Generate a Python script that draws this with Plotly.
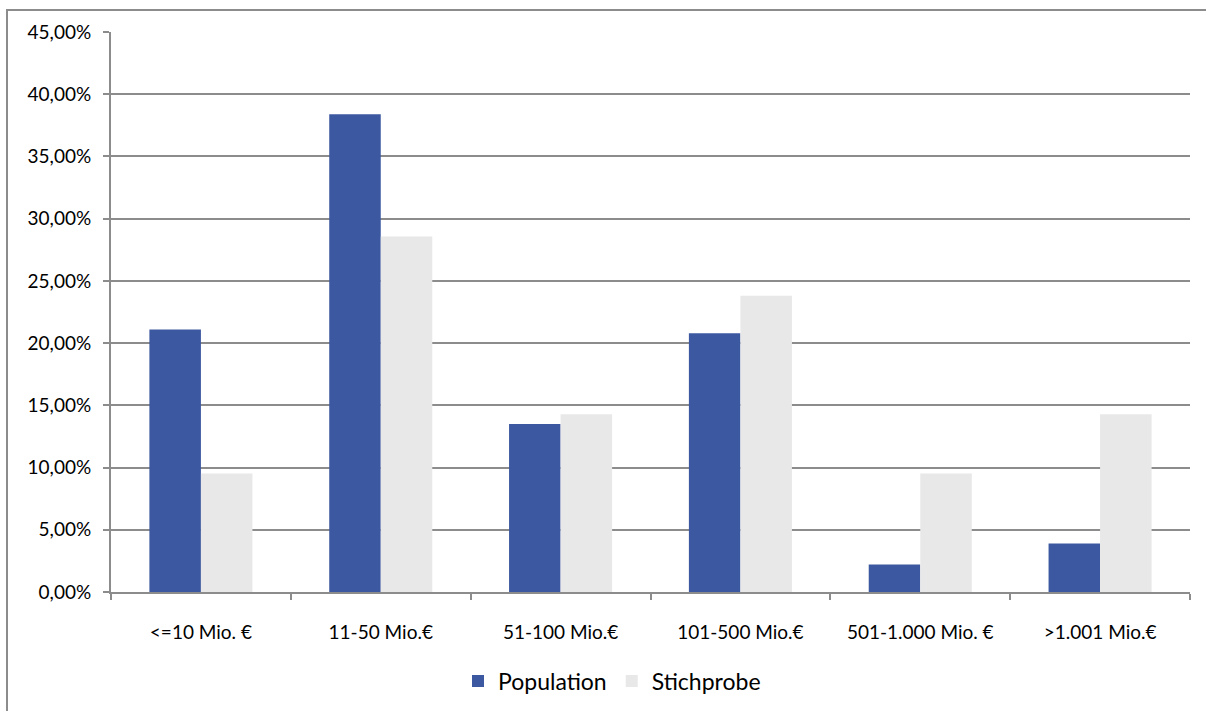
import plotly.graph_objects as go

# Umsatzklassen und Anteile (in Prozent)
categories = ["<=10 Mio. €", "11-50 Mio.€", "51-100 Mio.€", "101-500 Mio.€",
              "501-1.000 Mio. €", ">1.001 Mio.€"]
population = [21.1, 38.4, 13.5, 20.8, 2.2, 3.9]
stichprobe = [9.52, 28.57, 14.29, 23.81, 9.52, 14.29]
y_ticks = [0, 5, 10, 15, 20, 25, 30, 35, 40, 45]
y_tick_text = [f"{v:.2f}%".replace(".", ",") for v in y_ticks]

FONT = "Lato, 'Open Sans', sans-serif"
GRID = "#8c8c8c"

fig = go.Figure()
fig.add_trace(go.Bar(name="Population", x=categories, y=population,
                     marker=dict(color="#3c58a0", line=dict(width=0))))
fig.add_trace(go.Bar(name="Stichprobe", x=categories, y=stichprobe,
                     marker=dict(color="#e8e8e8", line=dict(width=0))))

W, H = 1206, 711
L, R, T, B = 111, 16, 32, 119
pw, ph = W - L - R, H - T - B

def px_x(x):
    return (x - L) / pw

def px_y(y):
    return (H - B - y) / ph

fig.update_layout(
    width=W, height=H,
    margin=dict(l=L, r=R, t=T, b=B, autoexpand=False),
    paper_bgcolor="white", plot_bgcolor="white",
    barmode="group", bargap=0.427, bargroupgap=0,
    font=dict(family=FONT, size=19, color="#000000"),
    showlegend=True,
    legend=dict(orientation="h", xref="container", yref="container",
                x=612 / W, y=1 - 681 / H,
                xanchor="center", yanchor="middle",
                font=dict(family=FONT, size=23, color="#000000"),
                itemsizing="constant", traceorder="normal"),
    xaxis=dict(showline=True, linecolor=GRID, linewidth=2, automargin=False,
               ticks="outside", tickson="boundaries", ticklen=6,
               tickcolor=GRID, tickwidth=1.5, showgrid=False,
               ticklabelstandoff=22,
               tickfont=dict(family=FONT, size=19)),
    yaxis=dict(range=[0, 45], tickvals=y_ticks, ticktext=y_tick_text,
               showline=True, linecolor=GRID, linewidth=2, automargin=False,
               ticks="outside", ticklen=6, tickcolor=GRID, tickwidth=1.5,
               showgrid=True, gridcolor=GRID, gridwidth=1.5,
               zeroline=False, ticklabelstandoff=8,
               tickfont=dict(family=FONT, size=19)),
    shapes=[dict(type="rect", xref="paper", yref="paper",
                 x0=px_x(7), x1=px_x(1230), y0=px_y(740), y1=px_y(10),
                 line=dict(color="#8c8c8c", width=2), fillcolor="rgba(0,0,0,0)",
                 layer="below")],
)

fig.write_html("out.html")
